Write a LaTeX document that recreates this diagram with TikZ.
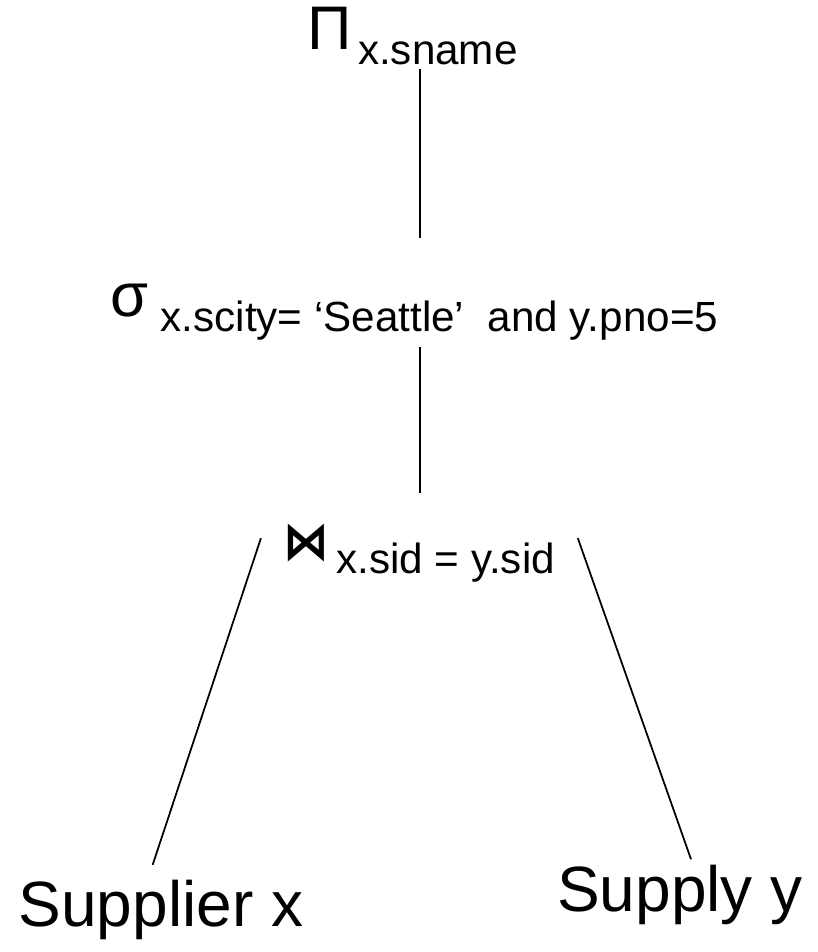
\documentclass[tikz,border=0pt]{standalone}
\usepackage{fontspec}
\setmainfont{Liberation Sans}
\newfontfamily\symfont{DejaVu Sans}
\usetikzlibrary{positioning}
\newcommand{\bigsz}{\fontsize{17.5}{21}\selectfont}
\newcommand{\relsz}{\fontsize{18.2}{22}\selectfont}
\newcommand{\subsz}{\fontsize{12}{14}\selectfont}
\newcommand{\opsub}[1]{\raisebox{-4pt}{\subsz #1}}
\tikzset{
  opnode/.style={font=\bigsz, inner sep=0pt, anchor=base west},
  relnode/.style={font=\relsz, inner sep=0pt, anchor=base},
  edge/.style={draw=black, line width=0.5pt},
}
\begin{document}
\begin{tikzpicture}[x=0.01cm, y=-0.01cm]
  \useasboundingbox (0,0) rectangle (817,952);

  % operators
  \node[opnode] (proj) at (307,50) {Π\hspace{1.7pt}\opsub{x.sname}};
  \node[opnode] (sel) at (110,317) {σ\hspace{3.4pt}\opsub{x.scity= ‘Seattle’\ \ and y.pno=5}};
  \node[opnode, inner xsep=4.8pt] (join) at (266,559)
        {{\symfont\bfseries\fontsize{13}{15}\selectfont\scalebox{1}[1.15]{⋈}}\hspace{2pt}\opsub{x.sid = y.sid}};

  % relations
  \node[relnode] (supp) at (161,926) {Supplier x};
  \node[relnode] (suppl) at (680,911) {Supply y};

  % edges
  \coordinate (stem) at ([xshift=2pt]proj.south);
  \draw[edge, shorten <=1.1pt, shorten >=13pt] (stem) -- (stem |- sel.north);
  \draw[edge, shorten <=1.7pt, shorten >=8.5pt] (stem |- sel.south) -- (stem |- join.north);
  \draw[edge, shorten <=4.6pt, shorten >=4.2pt] (join.north west) -- ([xshift=-3.7pt]supp.north);
  \draw[edge, shorten <=4.6pt, shorten >=1.4pt] (join.north east) -- ([xshift=3.6pt]suppl.north);
\end{tikzpicture}
\end{document}
